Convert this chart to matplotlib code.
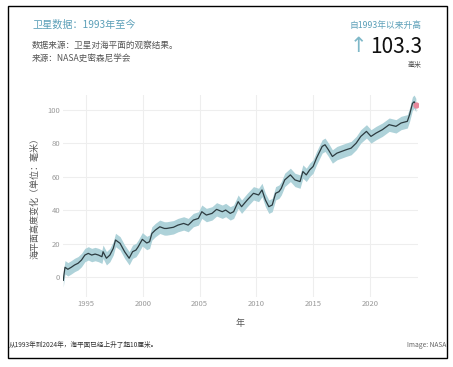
import numpy as np
import matplotlib.pyplot as plt
from matplotlib.patches import Rectangle

plt.rcParams['font.family'] = ['Noto Sans CJK SC', 'DejaVu Sans']

# satellite sea level record (mm vs 1993)
years = [1993.0, 1993.05, 1993.15, 1993.4, 1993.7, 1994.0, 1994.3, 1994.6, 1994.9,
         1995.2, 1995.5, 1995.8, 1996.1, 1996.4, 1996.5, 1996.8, 1997.1, 1997.4,
         1997.6, 1998.0, 1998.4, 1998.8, 1999.1, 1999.4, 1999.6, 1999.96, 2000.35,
         2000.6, 2000.8, 2001.1, 2001.5, 2001.9, 2002.1, 2002.7, 2003.1, 2003.6,
         2004.0, 2004.45, 2004.9, 2005.2, 2005.6, 2006.1, 2006.5, 2007.0, 2007.3,
         2007.7, 2008.0, 2008.4, 2008.7, 2009.2, 2009.75, 2010.2, 2010.5, 2010.8,
         2011.1, 2011.4, 2011.7, 2012.0, 2012.2, 2012.5, 2013.0, 2013.4, 2013.85,
         2014.1, 2014.4, 2014.7, 2015.0, 2015.3, 2015.8, 2016.05, 2016.35, 2016.7,
         2017.1, 2017.5, 2017.9, 2018.35, 2018.8, 2019.2, 2019.7, 2020.1, 2020.55,
         2021.1, 2021.7, 2022.3, 2022.75, 2023.3, 2023.5, 2023.75, 2023.9, 2024.05]
sea_level = [-2, 1, 5.8, 4.6, 5.8, 7.2, 8.2, 10.1, 13.1,
             14.1, 13.1, 13.7, 13.1, 12.1, 15.1, 11.2, 13.1, 17.1,
             22.1, 20.1, 15.1, 11.2, 15.1, 16.1, 18.1, 22.5, 20.3,
             21.1, 26, 28, 30, 29, 29, 29.7, 31, 32,
             31, 34, 35, 39, 37, 38, 40.4, 39, 40,
             38, 39, 45, 42, 46, 50, 49, 52, 46,
             42, 43, 50, 51, 53, 58, 61, 58, 57,
             63, 61, 64, 66, 71, 78, 79, 76, 72,
             74, 75, 76, 77, 80, 84, 87, 84, 86,
             88, 91, 90, 92, 93, 97, 103.7, 104.7, 102.7]
uncertainty = 4.0
last_year = 2024.05
last_value = 102.7

x_ticks = [1995, 2000, 2005, 2010, 2015, 2020]
y_ticks = [0, 20, 40, 60, 80, 100]

fig = plt.figure(figsize=(4.53, 3.67), dpi=100)
ax = fig.add_axes([0.139, 0.191, 0.784, 0.550])

y = np.array(sea_level)
ax.fill_between(years, y - uncertainty, y + uncertainty, color='#aed2d9', lw=0)
ax.plot(years, y, color='#2c3b40', lw=0.9)
ax.plot([last_year], [last_value], 'o', color='#e8879a', ms=3.5)

ax.set_xlim(1992.97, 2024.25)
ax.set_ylim(-11.9, 108.7)
ax.set_xticks(x_ticks)
ax.set_yticks(y_ticks)
ax.grid(color='#eeeeee', lw=0.8)
ax.set_axisbelow(True)
for s in ax.spines.values():
    s.set_visible(False)
ax.tick_params(length=0, labelsize=5.5, labelcolor='#999999', pad=2)
ax.set_xlabel('年', fontsize=6.5, color='#555555', labelpad=8)
ax.set_ylabel('海平面高度变化（单位：毫米）', fontsize=6.5, color='#555555', labelpad=6)

# header texts
fig.text(32/453, 1-25/367, '卫星数据：1993年至今', fontsize=7.3, color='#5b9fb8', va='center')
fig.text(32/453, 1-45/367, '数据来源：卫星对海平面的观察结果。', fontsize=6.2, color='#555555', va='center')
fig.text(32/453, 1-58/367, '来源：NASA史密森尼学会', fontsize=6.2, color='#555555', va='center')
fig.text(422/453, 1-25/367, '自1993年以来升高', fontsize=6.3, color='#5b9fb8', va='center', ha='right')
fig.text(422/453, 1-47/367, '103.3', fontsize=15, color='#111111', va='center', ha='right')
fig.text(358/453, 1-46/367, '↑', fontsize=15, color='#7fb8c8', va='center', ha='center',
         family=['DejaVu Sans'])
fig.text(422/453, 1-65/367, '毫米', fontsize=5, color='#555555', va='center', ha='right')

# footer texts
fig.text(9/453, 1-345/367, '从1993年到2024年，海平面已经上升了超10厘米。', fontsize=4.8,
         color='#333333', va='center')
fig.text(446/453, 1-345/367, 'Image: NASA', fontsize=4.8, color='#666666', va='center', ha='right')

# outer frame
fig.patches.append(Rectangle((8/453, 1-358/367), 439/453, 352/367, transform=fig.transFigure,
                             fill=False, ec='black', lw=1.0))

fig.savefig('out.png', dpi=100)
